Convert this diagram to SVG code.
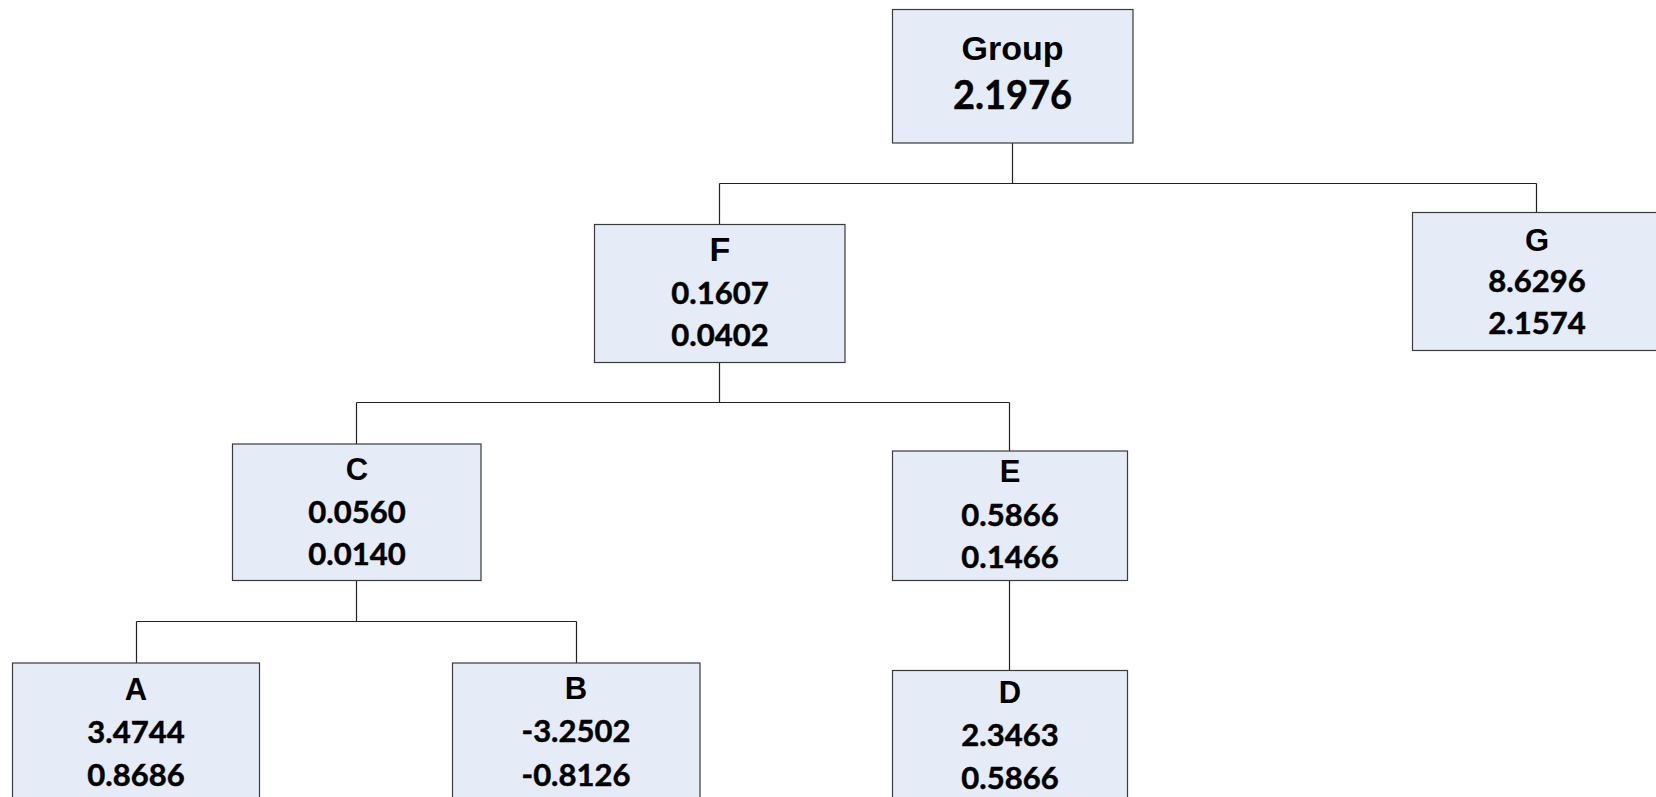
<svg xmlns="http://www.w3.org/2000/svg" width="1656" height="797" viewBox="0 0 1656 797">
<style>
.box{fill:#E6ECF7;stroke:#3a3a3a;stroke-width:1.2}
.lbl{font-family:"Liberation Sans",Arial,sans-serif;font-weight:bold;font-size:31px;fill:#000;text-anchor:middle}
.val{font-family:Lato,"Liberation Sans",sans-serif;font-weight:bold;font-size:31px;fill:#000;text-anchor:middle;stroke:#000;stroke-width:0.5}
.conn{fill:none;stroke:#222;stroke-width:1.2}
</style>
<rect width="1656" height="797" fill="#fff"/>
<g id="connectors">
<path class="conn" d="M1012.5,143 V183.5 M719.5,183.5 H1536.5 M719.5,183.5 V224.5 M1536.5,183.5 V212.5"/>
<path class="conn" d="M719.5,362.5 V402.5 M356.5,402.5 H1009.5 M356.5,402.5 V444 M1009.5,402.5 V451"/>
<path class="conn" d="M356.5,580.5 V621.5 M136.5,621.5 H576.5 M136.5,621.5 V663 M576.5,621.5 V663"/>
<path class="conn" d="M1009.5,580.5 V670.5"/>
</g>
<g id="node-group">
<rect class="box" x="892.5" y="9.5" width="240.5" height="133.5"/>
<text class="lbl" x="1012.5" y="60" style="font-size:34px">Group</text>
<text class="val" x="1012.5" y="109" style="font-size:40px" textLength="119" lengthAdjust="spacingAndGlyphs">2.1976</text>
</g>
<g id="node-F">
<rect class="box" x="594.5" y="224.5" width="250.5" height="138"/>
<text class="lbl" x="720" y="261" style="font-size:34px">F</text>
<text class="val" x="720" y="304">0.1607</text>
<text class="val" x="720" y="346">0.0402</text>
</g>
<g id="node-G">
<rect class="box" x="1412.5" y="212.5" width="250" height="138"/>
<text class="lbl" x="1537" y="251">G</text>
<text class="val" x="1537" y="292">8.6296</text>
<text class="val" x="1537" y="334">2.1574</text>
</g>
<g id="node-C">
<rect class="box" x="232.5" y="444" width="248.5" height="136.5"/>
<text class="lbl" x="357" y="480">C</text>
<text class="val" x="357" y="523">0.0560</text>
<text class="val" x="357" y="565">0.0140</text>
</g>
<g id="node-E">
<rect class="box" x="892.5" y="451" width="235" height="129.5"/>
<text class="lbl" x="1010" y="482">E</text>
<text class="val" x="1010" y="526">0.5866</text>
<text class="val" x="1010" y="568">0.1466</text>
</g>
<g id="node-A">
<rect class="box" x="12.5" y="663" width="247" height="150"/>
<text class="lbl" x="136" y="700">A</text>
<text class="val" x="136" y="743">3.4744</text>
<text class="val" x="136" y="786">0.8686</text>
</g>
<g id="node-B">
<rect class="box" x="452.5" y="663" width="247.5" height="150"/>
<text class="lbl" x="576" y="699">B</text>
<text class="val" x="576" y="742">-3.2502</text>
<text class="val" x="576" y="786">-0.8126</text>
</g>
<g id="node-D">
<rect class="box" x="892.5" y="670.5" width="235" height="150"/>
<text class="lbl" x="1010" y="703">D</text>
<text class="val" x="1010" y="746">2.3463</text>
<text class="val" x="1010" y="789">0.5866</text>
</g>
</svg>
